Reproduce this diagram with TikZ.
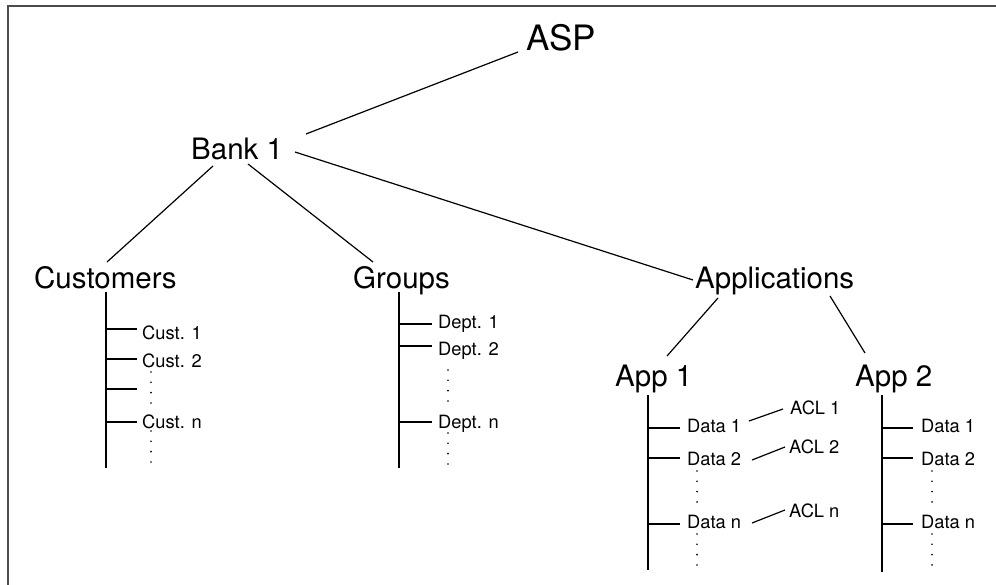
\documentclass[tikz,border=0pt]{standalone}
\usepackage{fontspec}
\setmainfont{TeX Gyre Heros}
\usetikzlibrary{calc}
\begin{document}
\begin{tikzpicture}[x=1pt,y=-1pt,
  every node/.style={inner sep=0pt, anchor=base west},
  big/.style={font=\fontsize{35}{40}\selectfont},
  mid/.style={font=\fontsize{29.5}{34}\selectfont},
  small/.style={font=\fontsize{18.3}{21}\selectfont},
  link/.style={line width=1.2pt},
  frameline/.style={line width=1.5pt, black!70},
  dotfill/.style={fill=black}]
\useasboundingbox (0,0) rectangle (996,584);

% frame (top and left edges)
\draw[frameline] (8,590) -- (8,6) -- (1000,6);

% main levels
\node[big] (asp)  at (526,50)  {ASP};
\node[mid] (bank) at (191,159) {Bank 1};
\node[mid] (cust) at (34,288)  {Customers};
\node[mid] (grp)  at (353,288) {Groups};
\node[mid] (apps) at (695,288) {Applications};
\node[mid] (app1) at (615,386) {App 1};
\node[mid] (app2) at (855,386) {App 2};

\draw[link] ($(asp.base west)+(-8,2)$) -- ($(bank.base west)+(115,-25)$);
\draw[link] ($(bank.base west)+(104,-7)$) -- ($(apps.base west)+(-2,-8)$);
\draw[link] ($(bank.base west)+(22,7)$) -- ($(cust.base west)+(73,-26)$);
\draw[link] ($(bank.base west)+(57,5)$) -- ($(grp.base west)+(20,-26)$);
\draw[link] ($(apps.base west)+(23,10)$) -- ($(app1.base west)+(52,-30)$);
\draw[link] ($(apps.base west)+(135,8)$) -- ($(app2.base west)+(10,-33)$);

% customers
\node[small] (c1) at (142,339) {Cust. 1};
\node[small] (c2) at (142,367) {Cust. 2};
\node[small] (cn) at (142,428) {Cust. n};
\coordinate (ctop) at ($(cust.base west)+(72,4)$);
\coordinate (cbot) at (106,468);
\draw[link] (ctop) -- (cbot);
\draw[link] (106,329) -- (137,329);
\draw[link] (106,359) -- (137,359);
\draw[link] (106,389) -- (137,389);
\draw[link] (106,422) -- (137,422);
\foreach \k in {0,...,3} {
  \fill[dotfill] (151,372+\k*10.3) circle[radius=0.9pt];
  \fill[dotfill] (151,431+\k*10.3) circle[radius=0.9pt];
}

% groups
\node[small] (d1) at (438,328) {Dept. 1};
\node[small] (d2) at (438,355) {Dept. 2};
\node[small] (dn) at (438,428) {Dept. n};
\coordinate (gtop) at ($(grp.base west)+(46,4)$);
\coordinate (gbot) at (399,468);
\draw[link] (gtop) -- (gbot);
\draw[link] (399,324) -- (432,324);
\draw[link] (399,346) -- (432,346);
\draw[link] (399,422) -- (432,422);
\foreach \k in {0,...,3} {
  \fill[dotfill] (448,370+\k*10.3) circle[radius=0.9pt];
  \fill[dotfill] (448,433+\k*10.3) circle[radius=0.9pt];
}

% application 1
\node[small] (a11) at (687,432) {Data 1};
\node[small] (a12) at (687,465) {Data 2};
\node[small] (a1n) at (687,528) {Data n};
\node[small] (acl1) at (790,414) {ACL 1};
\node[small] (acl2) at (789,453) {ACL 2};
\node[small] (acln) at (789,517) {ACL n};
\coordinate (a1top) at (648,395);
\coordinate (a1bot) at (648,570);
\draw[link] (a1top) -- (a1bot);
\draw[link] (648,428) -- (680,428);
\draw[link] (648,458) -- (680,458);
\draw[link] (648,524) -- (680,524);
\draw[link] ($(a11.base west)+(62,-11)$) -- ($(acl1.base west)+(-7,-5)$);
\draw[link] ($(a12.base west)+(65,-5)$) -- ($(acl2.base west)+(-4,-6)$);
\draw[link] ($(a1n.base west)+(65,-5)$) -- ($(acln.base west)+(-4,-7)$);
\foreach \k in {0,...,3} {
  \fill[dotfill] (697,471+\k*10.3) circle[radius=0.9pt];
  \fill[dotfill] (697,534+\k*10.3) circle[radius=0.9pt];
}

% application 2
\node[small] (a21) at (921,432) {Data 1};
\node[small] (a22) at (921,465) {Data 2};
\node[small] (a2n) at (921,528) {Data n};
\coordinate (a2top) at (882,395);
\coordinate (a2bot) at (882,572);
\draw[link] (a2top) -- (a2bot);
\draw[link] (882,428) -- (913,428);
\draw[link] (882,458) -- (913,458);
\draw[link] (882,524) -- (913,524);
\foreach \k in {0,...,3} {
  \fill[dotfill] (932,471+\k*10.3) circle[radius=0.9pt];
  \fill[dotfill] (932,534+\k*10.3) circle[radius=0.9pt];
}
\end{tikzpicture}
\end{document}
